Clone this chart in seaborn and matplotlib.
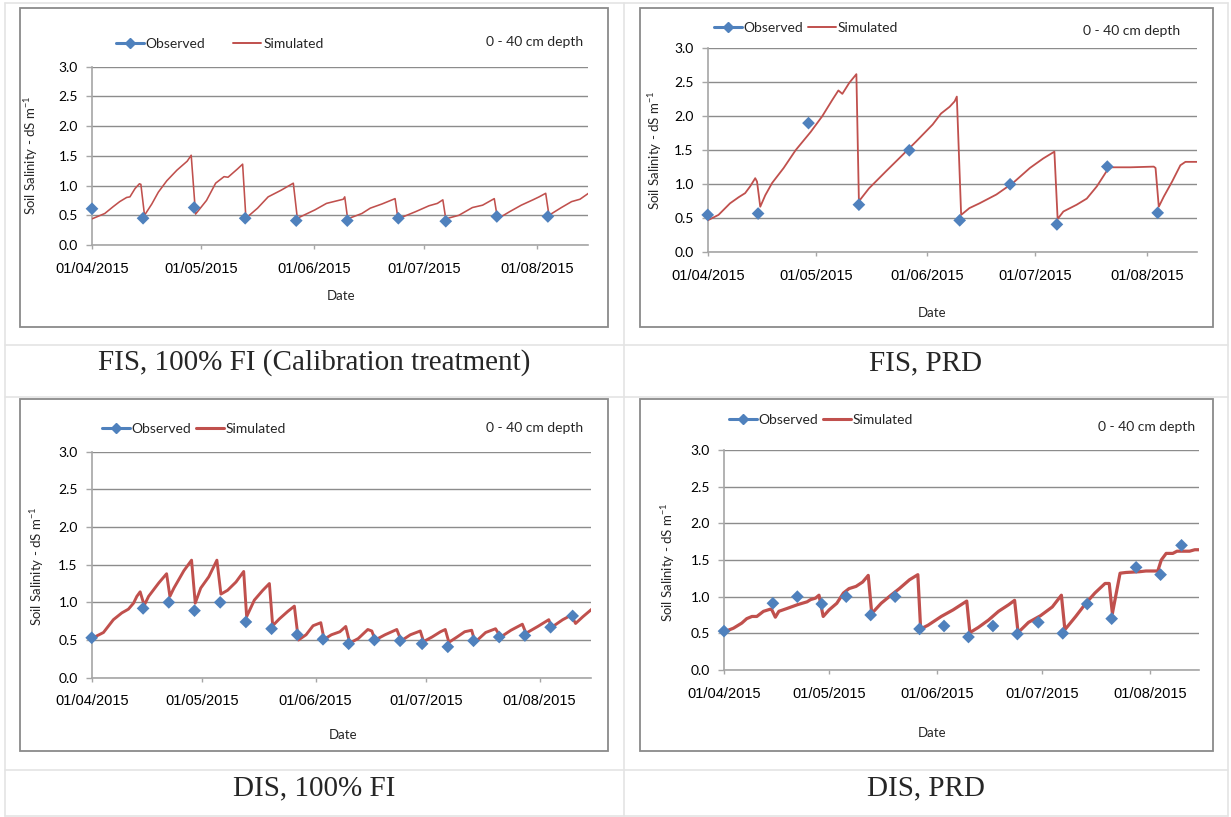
import pandas as pd
import matplotlib
matplotlib.use("Agg")
import matplotlib.pyplot as plt
import matplotlib.dates as mdates
from matplotlib.lines import Line2D
import seaborn as sns

START = pd.Timestamp("2015-04-01")
END = pd.Timestamp("2015-08-15")
MONTH_TICKS = ["2015-04-01", "2015-05-01", "2015-06-01", "2015-07-01", "2015-08-01"]
Y_TICKS = [0.0, 0.5, 1.0, 1.5, 2.0, 2.5, 3.0]

# ---- FIS, 100% FI (calibration) ----
fis_fi_obs_day = [0, 14, 28, 42, 56, 70, 84, 97, 111, 125]
fis_fi_obs = [0.61, 0.45, 0.63, 0.45, 0.41, 0.41, 0.45, 0.40, 0.48, 0.48]
fis_fi_sim_day = [0, 3.5, 5.8, 7.6, 9.5, 10.4, 11.8, 13, 13.4, 14.4, 16.4, 18.2, 20.5, 23.3,
                  26.1, 27.2, 28.4, 31.4, 33.9, 36.2, 37.3, 39.9, 41.3, 42.2, 45.4, 48.3,
                  51.8, 55.2, 56.3, 61.1, 64.3, 68.9, 69.3, 70.1, 74, 76.3, 79.5, 83.1,
                  83.9, 88.7, 92.4, 94.7, 96.2, 97, 100.6, 104.3, 107.1, 110.3, 111.2,
                  114.5, 117.7, 120.9, 122.6, 124.4, 125.3, 128.7, 131.5, 133.8, 136.6]
fis_fi_sim = [0.44, 0.53, 0.645, 0.73, 0.80, 0.81, 0.95, 1.03, 1.02, 0.50, 0.69, 0.89, 1.08,
              1.26, 1.41, 1.51, 0.52, 0.75, 1.04, 1.15, 1.14, 1.28, 1.36, 0.45, 0.62, 0.81,
              0.92, 1.04, 0.45, 0.59, 0.70, 0.77, 0.81, 0.44, 0.53, 0.62, 0.69, 0.78, 0.44,
              0.56, 0.66, 0.70, 0.76, 0.44, 0.50, 0.63, 0.67, 0.78, 0.44, 0.56, 0.67, 0.76,
              0.81, 0.87, 0.50, 0.63, 0.73, 0.77, 0.89]

# ---- FIS, PRD ----
fis_prd_obs_day = [0, 14, 28, 42, 56, 70, 84, 97, 111, 125]
fis_prd_obs = [0.55, 0.57, 1.90, 0.70, 1.50, 0.47, 1.00, 0.41, 1.26, 0.58]
fis_prd_sim_day = [0, 3, 6.2, 8.6, 10.4, 11.8, 13.2, 13.7, 14.6, 16, 17.9, 21.1, 24.4, 28.6,
                   31.8, 34.6, 36.3, 37.4, 39.3, 41.3, 42.0, 44.8, 49.5, 54.1, 57.9, 62.5,
                   64.8, 67.2, 68.6, 69.2, 70.4, 72.7, 75.5, 80.2, 84.8, 89.5, 93.2, 96.3,
                   97.2, 98.8, 102.5, 105.3, 108.1, 111.5, 117.4, 123.9, 124.4, 125.3,
                   126.7, 129, 131.3, 132.7, 136.5]
fis_prd_sim = [0.47, 0.55, 0.72, 0.81, 0.87, 0.97, 1.09, 1.04, 0.67, 0.84, 1.02, 1.24, 1.50,
               1.77, 2.00, 2.24, 2.38, 2.33, 2.49, 2.62, 0.75, 0.94, 1.19, 1.43, 1.63, 1.88,
               2.04, 2.14, 2.22, 2.29, 0.55, 0.65, 0.72, 0.85, 1.02, 1.24, 1.38, 1.48, 0.49,
               0.60, 0.70, 0.79, 0.97, 1.25, 1.25, 1.26, 1.24, 0.67, 0.82, 1.04, 1.28, 1.33,
               1.33]

# ---- DIS, 100% FI ----
dis_fi_obs_day = [0, 14, 21, 28, 35, 42, 49, 56, 63, 70, 77, 84, 90, 97, 104, 111, 118,
                  125, 131]
dis_fi_obs = [0.53, 0.92, 1.00, 0.89, 1.00, 0.74, 0.65, 0.57, 0.51, 0.45, 0.50, 0.49, 0.45,
              0.41, 0.49, 0.54, 0.56, 0.67, 0.82]
dis_fi_sim_day = [0, 3.2, 5.9, 8.2, 10, 11.4, 12.3, 13.2, 14.3, 15.5, 18.3, 20.4, 21.3, 22.4,
                  25.1, 27.2, 28.2, 29.7, 31.9, 34.1, 35.2, 37, 39.3, 41.4, 42.2, 44.3, 46.6,
                  48.4, 49.3, 51.1, 53.4, 55.2, 56.3, 58.4, 60.3, 62.4, 63.3, 65.3, 67.6,
                  69.2, 70.3, 72.6, 75.2, 76.3, 77.2, 79.9, 83.1, 84.3, 86.8, 89.5, 90.4,
                  92.7, 95, 96.3, 97.3, 99.5, 101.6, 103.5, 104.4, 107.3, 110, 111.4, 114.2,
                  117.3, 118.3, 121.5, 124.5, 125.3, 128.3, 130.6, 131.8, 133.8, 136.7]
dis_fi_sim = [0.52, 0.60, 0.77, 0.86, 0.91, 0.99, 1.08, 1.14, 0.96, 1.08, 1.26, 1.38, 1.08,
              1.19, 1.42, 1.56, 0.99, 1.19, 1.34, 1.56, 1.11, 1.16, 1.27, 1.41, 0.81, 1.03,
              1.16, 1.25, 0.69, 0.78, 0.88, 0.95, 0.50, 0.57, 0.69, 0.73, 0.51, 0.57, 0.61,
              0.68, 0.46, 0.52, 0.64, 0.62, 0.50, 0.57, 0.64, 0.49, 0.57, 0.62, 0.48, 0.54,
              0.61, 0.64, 0.47, 0.54, 0.61, 0.63, 0.47, 0.60, 0.65, 0.54, 0.63, 0.71, 0.59,
              0.68, 0.77, 0.67, 0.77, 0.83, 0.72, 0.81, 0.93]

# ---- DIS, PRD ----
dis_prd_obs_day = [0, 14, 21, 28, 35, 42, 49, 56, 63, 70, 77, 84, 90, 97, 104, 111, 118,
                   125, 131]
dis_prd_obs = [0.53, 0.91, 1.00, 0.90, 1.00, 0.75, 1.00, 0.56, 0.60, 0.45, 0.60, 0.49, 0.65,
               0.50, 0.90, 0.70, 1.40, 1.30, 1.70]
dis_prd_sim_day = [0, 2.7, 5.1, 6.5, 8, 9.4, 11.3, 13.3, 13.7, 14.7, 15.7, 18.1, 21, 23.8,
                   24.8, 26.2, 27.2, 28.4, 30.1, 32.3, 34.2, 35.8, 37.8, 39.7, 41.3, 42.3,
                   45, 47.8, 50.2, 53.1, 55.5, 56.3, 58.4, 62.2, 65.6, 69.5, 70.4, 72.8,
                   75.7, 78.6, 81.5, 83.2, 84.2, 87.2, 90.6, 94, 96.6, 97.6, 100.7, 103.6,
                   106.2, 109.1, 110.3, 111.2, 112.2, 113.4, 115.1, 118.9, 120.8, 124.2,
                   125.2, 126.6, 128.5, 129.7, 133.3, 134.8, 136.7]
dis_prd_sim = [0.52, 0.57, 0.64, 0.70, 0.73, 0.73, 0.80, 0.83, 0.82, 0.72, 0.80, 0.84, 0.89,
               0.93, 0.96, 0.98, 1.02, 0.73, 0.82, 0.91, 1.05, 1.11, 1.14, 1.20, 1.29, 0.77,
               0.91, 1.02, 1.11, 1.23, 1.30, 0.56, 0.61, 0.73, 0.82, 0.94, 0.51, 0.58, 0.68,
               0.80, 0.89, 0.95, 0.51, 0.65, 0.74, 0.86, 1.02, 0.55, 0.73, 0.91, 1.05, 1.18,
               1.18, 0.77, 1.02, 1.32, 1.33, 1.34, 1.35, 1.35, 1.50, 1.59, 1.59, 1.62, 1.62,
               1.64, 1.64]

captions = ["FIS, 100% FI (Calibration treatment)", "FIS, PRD", "DIS, 100% FI", "DIS, PRD"]
legend_labels = ["Observed", "Simulated"]
depth_label = "0 - 40 cm depth"
y_label = "Soil Salinity - dS m$^{-1}$"
x_label = "Date"

OBS_COLOR = "#4F81BD"
SIM_COLOR = "#C0504D"
GRID_COLOR = "#8C8C8C"
AXIS_COLOR = "#A6A6A6"
BOX_COLOR = "#8A8A8A"
TABLE_COLOR = "#E4E4E4"

W, H = 1231, 817

sns.set_theme(style="white")
plt.rcParams["font.family"] = ["Lato", "DejaVu Sans"]
plt.rcParams["mathtext.default"] = "regular"

fig = plt.figure(figsize=(W / 100, H / 100), dpi=100)
fig.patch.set_facecolor("white")


def fx(px):
    return px / W


def fy(py):
    return 1 - py / H


# table rules around the four cells
for xv in (5, 624, 1228):
    fig.add_artist(Line2D([fx(xv)] * 2, [fy(3), fy(816)], color=TABLE_COLOR, lw=1.2))
for yv in (3, 345, 397, 770, 816):
    fig.add_artist(Line2D([fx(5), fx(1228)], [fy(yv)] * 2, color=TABLE_COLOR, lw=1.2))

panels = [
    dict(obs=(fis_fi_obs_day, fis_fi_obs), sim=(fis_fi_sim_day, fis_fi_sim), lw=1.15,
         box=(20, 8, 608, 327), ax=(92, 66.7, 588, 245), leg=(116, 44.3, 2.0),
         depth=(583, 41.7), ylab=(31, 155), date=(341, 296), cap=(314, 363)),
    dict(obs=(fis_prd_obs_day, fis_prd_obs), sim=(fis_prd_sim_day, fis_prd_sim), lw=1.3,
         box=(640, 8, 1213, 327), ax=(707.7, 48.3, 1197.3, 252.3), leg=(714, 27.5, 0.3),
         depth=(1180, 31), ylab=(655, 150), date=(932, 313), cap=(926, 363)),
    dict(obs=(dis_fi_obs_day, dis_fi_obs), sim=(dis_fi_sim_day, dis_fi_sim), lw=2.1,
         box=(20, 399, 608, 751), ax=(91.7, 451.7, 591, 677.7), leg=(102, 429, 0.3),
         depth=(583, 428), ylab=(37, 566), date=(343, 735), cap=(314, 788)),
    dict(obs=(dis_prd_obs_day, dis_prd_obs), sim=(dis_prd_sim_day, dis_prd_sim), lw=2.3,
         box=(640, 399, 1213, 751), ax=(724, 450, 1199, 670), leg=(729, 420, 0.3),
         depth=(1195, 427), ylab=(668, 562), date=(932, 733), cap=(926, 788)),
]

for p, cap in zip(panels, captions):
    # chart frame
    x0, y0, x1, y1 = p["box"]
    fig.add_artist(plt.Rectangle((fx(x0), fy(y1)), fx(x1) - fx(x0), fy(y0) - fy(y1),
                                 transform=fig.transFigure, fill=False,
                                 edgecolor=BOX_COLOR, lw=1.3))

    ax0, ay0, ax1, ay1 = p["ax"]
    ax = fig.add_axes([fx(ax0), fy(ay1), fx(ax1) - fx(ax0), fy(ay0) - fy(ay1)])
    ax.set_facecolor("none")

    sim_df = pd.DataFrame({
        "date": START + pd.to_timedelta(p["sim"][0], unit="D"),
        "value": p["sim"][1],
    })
    obs_df = pd.DataFrame({
        "date": START + pd.to_timedelta(p["obs"][0], unit="D"),
        "value": p["obs"][1],
    })
    sns.lineplot(data=sim_df, x="date", y="value", ax=ax, color=SIM_COLOR,
                 linewidth=p["lw"], estimator=None, sort=False, legend=False, zorder=3)
    sns.scatterplot(data=obs_df, x="date", y="value", ax=ax, color=OBS_COLOR,
                    marker="D", s=42, edgecolor="none", legend=False, zorder=4,
                    clip_on=False)

    ax.set_xlim(START, END)
    ax.set_ylim(0, 3.0)
    ax.set_yticks(Y_TICKS)
    ax.set_yticklabels([f"{v:.1f}" for v in Y_TICKS])
    ax.set_xticks(pd.to_datetime(MONTH_TICKS))
    ax.xaxis.set_major_formatter(mdates.DateFormatter("%d/%m/%Y"))
    ax.set_xlabel("")
    ax.set_ylabel("")

    ax.grid(axis="y", color=GRID_COLOR, lw=1.0)
    ax.grid(axis="x", visible=False)
    for side in ("top", "right"):
        ax.spines[side].set_visible(False)
    for side in ("left", "bottom"):
        ax.spines[side].set_color(AXIS_COLOR)
        ax.spines[side].set_linewidth(1.2)
    ax.tick_params(axis="y", direction="out", length=4, width=1, color=AXIS_COLOR,
                   pad=6, labelsize=10, labelcolor="black", left=True)
    ax.tick_params(axis="x", direction="out", length=3, width=1, color=AXIS_COLOR,
                   pad=9, labelcolor="black", bottom=True)
    for lab in ax.get_xticklabels():
        lab.set_family("Liberation Sans")
        lab.set_fontsize(10.5)

    # legend above the plot area
    handles = [
        Line2D([], [], color=OBS_COLOR, lw=2.2, marker="D", markersize=5.5),
        Line2D([], [], color=SIM_COLOR, lw=2.2 if p["lw"] > 1.5 else 1.4),
    ]
    lx, ly, colsp = p["leg"]
    ax.legend(handles, legend_labels, ncol=2, frameon=False, loc="center left",
              bbox_to_anchor=(fx(lx), fy(ly)), bbox_transform=fig.transFigure,
              borderaxespad=0, borderpad=0, handlelength=2.0, handletextpad=0.15,
              columnspacing=colsp, fontsize=10)

    fig.text(fx(p["depth"][0]), fy(p["depth"][1]), depth_label, ha="right", va="center",
             fontsize=10)
    fig.text(fx(p["ylab"][0]), fy(p["ylab"][1]), y_label, rotation=90, ha="center",
             va="center", fontsize=9.5)
    fig.text(fx(p["date"][0]), fy(p["date"][1]), x_label, ha="center", va="center",
             fontsize=9.5)
    fig.text(fx(p["cap"][0]), fy(p["cap"][1]), cap, ha="center", va="center",
             fontsize=21, family="Liberation Serif")

fig.savefig("out.png", dpi=100, facecolor="white")
